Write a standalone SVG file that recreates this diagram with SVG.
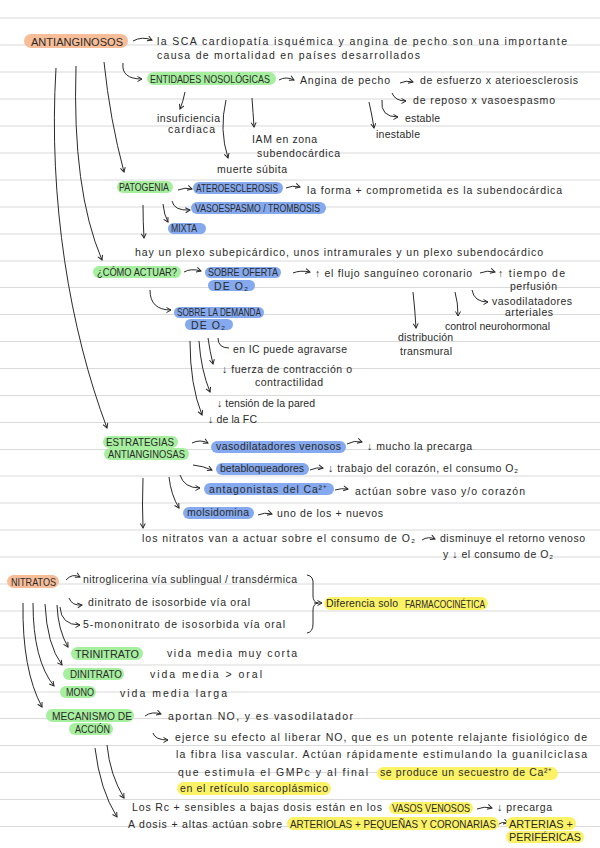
<svg xmlns="http://www.w3.org/2000/svg" width="600" height="848" viewBox="0 0 600 848">
<style>
.rule{stroke:#dadada;stroke-width:1.2}
.t{font-family:"Liberation Sans",Arial,sans-serif;font-size:10.5px;fill:#2a2a2a}
.c{font-family:"Liberation Sans",Arial,sans-serif;font-size:10.5px;fill:#2a2a2a}
.or{fill:#f7bd98}
.gr{fill:#a6ef9e}
.bl{fill:#85a9ee}
.ye{fill:#fbf266}
.ln{fill:none;stroke:#2a2a2a;stroke-width:1;marker-end:url(#ah)}
.lnn{fill:none;stroke:#2a2a2a;stroke-width:1}
</style>
<defs>
<marker id="ah" markerWidth="7" markerHeight="7" refX="5" refY="3" orient="auto" markerUnits="userSpaceOnUse"><path d="M0.5,0.5 L5,3 L0.5,5.5" fill="none" stroke="#2a2a2a" stroke-width="1"/></marker>
</defs>
<rect width="600" height="848" fill="#ffffff"/>
<g id="rules">
<line class="rule" x1="0" x2="600" y1="18" y2="18"/>
<line class="rule" x1="0" x2="600" y1="45" y2="45"/>
<line class="rule" x1="0" x2="600" y1="72" y2="72"/>
<line class="rule" x1="0" x2="600" y1="99" y2="99"/>
<line class="rule" x1="0" x2="600" y1="126" y2="126"/>
<line class="rule" x1="0" x2="600" y1="153" y2="153"/>
<line class="rule" x1="0" x2="600" y1="180" y2="180"/>
<line class="rule" x1="0" x2="600" y1="207" y2="207"/>
<line class="rule" x1="0" x2="600" y1="234" y2="234"/>
<line class="rule" x1="0" x2="600" y1="261" y2="261"/>
<line class="rule" x1="0" x2="600" y1="287.5" y2="287.5"/>
<line class="rule" x1="0" x2="600" y1="314.5" y2="314.5"/>
<line class="rule" x1="0" x2="600" y1="341.5" y2="341.5"/>
<line class="rule" x1="0" x2="600" y1="368.5" y2="368.5"/>
<line class="rule" x1="0" x2="600" y1="395.5" y2="395.5"/>
<line class="rule" x1="0" x2="600" y1="422.5" y2="422.5"/>
<line class="rule" x1="0" x2="600" y1="449.5" y2="449.5"/>
<line class="rule" x1="0" x2="600" y1="476" y2="476"/>
<line class="rule" x1="0" x2="600" y1="503" y2="503"/>
<line class="rule" x1="0" x2="600" y1="530" y2="530"/>
<line class="rule" x1="0" x2="600" y1="557" y2="557"/>
<line class="rule" x1="0" x2="600" y1="584" y2="584"/>
<line class="rule" x1="0" x2="600" y1="611" y2="611"/>
<line class="rule" x1="0" x2="600" y1="638" y2="638"/>
<line class="rule" x1="0" x2="600" y1="665" y2="665"/>
<line class="rule" x1="0" x2="600" y1="692" y2="692"/>
<line class="rule" x1="0" x2="600" y1="718.5" y2="718.5"/>
<line class="rule" x1="0" x2="600" y1="745.5" y2="745.5"/>
<line class="rule" x1="0" x2="600" y1="772.5" y2="772.5"/>
<line class="rule" x1="0" x2="600" y1="799.5" y2="799.5"/>
<line class="rule" x1="0" x2="600" y1="826.5" y2="826.5"/>
</g>

<g id="connectors">
<path class="ln" d="M133,41 Q142,36 152,40"/>
<path class="ln" d="M123,63 Q121,79 142,79"/>
<path class="ln" d="M104,62 Q110,120 124,172"/>
<path class="ln" d="M76,66 Q72,190 102,260"/>
<path class="ln" d="M56,68 C48,200 70,330 107,428"/>
<path class="ln" d="M279,80 Q286,76 294,80"/>
<path class="ln" d="M400,83 Q406,80 413,82"/>
<path class="ln" d="M392,93 Q395,101 406,101"/>
<path class="ln" d="M382,100 Q380,117 398,117"/>
<path class="ln" d="M369,102 Q372,115 374,128"/>
<path class="ln" d="M185,92 Q183,102 180,109"/>
<path class="ln" d="M226,100 Q219,130 228,158"/>
<path class="ln" d="M252,98 Q253,112 254,127"/>
<path class="ln" d="M178,190 Q185,187 192,189"/>
<path class="ln" d="M286,188 Q292,185 300,187"/>
<path class="ln" d="M172,201 Q174,211 190,210"/>
<path class="ln" d="M163,204 Q164,215 168,222"/>
<path class="ln" d="M143,205 Q143,222 144,238"/>
<path class="ln" d="M184,272 Q191,268 201,271"/>
<path class="ln" d="M293,273 Q300,270 310,272"/>
<path class="ln" d="M480,273 Q487,270 495,272"/>
<path class="ln" d="M472,290 Q474,302 488,302"/>
<path class="ln" d="M455,292 Q458,302 458,316"/>
<path class="ln" d="M413,292 Q415,310 416,328"/>
<path class="ln" d="M150,290 Q150,310 171,310"/>
<path class="lnn" d="M218,338 Q218,348 229,348"/>
<path class="ln" d="M208,338 Q210,352 213,364"/>
<path class="ln" d="M199,341 Q201,370 210,392"/>
<path class="ln" d="M190,341 Q190,385 202,415"/>
<path class="ln" d="M192,443 Q200,439 208,443"/>
<path class="ln" d="M347,444 Q354,440 362,442"/>
<path class="ln" d="M193,465 Q203,466 212,470"/>
<path class="ln" d="M310,470 Q317,467 323,468"/>
<path class="ln" d="M180,475 Q184,488 200,488"/>
<path class="ln" d="M335,490 Q341,488 348,489"/>
<path class="ln" d="M169,477 Q171,495 179,508"/>
<path class="ln" d="M258,515 Q264,512 272,514"/>
<path class="ln" d="M143,478 Q142,505 143,528"/>
<path class="ln" d="M422,540 Q428,536 435,539"/>
<path class="ln" d="M66,580 Q72,573 80,577"/>
<path class="ln" d="M69,598 Q72,606 82,605"/>
<path class="ln" d="M60,607 Q61,625 80,625"/>
<path class="ln" d="M57,605 Q58,630 68,647"/>
<path class="ln" d="M45,604 Q47,645 62,665"/>
<path class="ln" d="M33,603 Q33,660 54,686"/>
<path class="ln" d="M23,603 Q22,670 42,707"/>
<path class="lnn" d="M307,575 Q314,576 313,585 L313,596 Q313,602 318,603 Q313,604 313,610 L313,624 Q313,632 307,633"/>
<path class="ln" d="M314,603 L322,603"/>
<path class="ln" d="M145,716 Q152,711 161,714"/>
<path class="ln" d="M153,733 Q155,740 168,740"/>
<path class="ln" d="M107,745 Q110,775 124,798"/>
<path class="ln" d="M95,748 Q100,790 117,817"/>
<path class="ln" d="M477,809 Q484,806 492,808"/>
<path class="ln" d="M497,825 Q502,821 508,823"/>
</g>

<g id="n-antianginosos"><rect class="or" x="24" y="34" width="104" height="14" rx="7"/><text class="c" font-size="11.5" x="31" y="45.5" textLength="92" lengthAdjust="spacingAndGlyphs">ANTIANGINOSOS</text></g>
<g id="n-intro"><text class="t" x="157" y="45" textLength="410">la SCA cardiopatía isquémica y angina de pecho son una importante</text><text class="t" x="157" y="59" textLength="263">causa de mortalidad en países desarrollados</text></g>

<g id="n-entidades"><rect class="gr" x="147" y="72" width="129" height="13" rx="6.5"/><text class="c" x="150" y="82.5" textLength="120" lengthAdjust="spacingAndGlyphs">ENTIDADES NOSOLÓGICAS</text></g>
<g id="n-angina"><text class="t" x="300" y="84" textLength="90">Angina de pecho</text></g>
<g id="n-esfuerzo"><text class="t" x="420" y="84" textLength="158">de esfuerzo x aterioesclerosis</text></g>
<g id="n-reposo"><text class="t" x="413" y="104" textLength="142">de reposo x vasoespasmo</text></g>
<g id="n-estable"><text class="t" x="405" y="122" textLength="35">estable</text></g>
<g id="n-inestable"><text class="t" x="376" y="138" textLength="44">inestable</text></g>
<g id="n-insuficiencia"><text class="t" x="157" y="122" textLength="63">insuficiencia</text><text class="t" x="168" y="133" textLength="47">cardiaca</text></g>
<g id="n-iam"><text class="t" x="252" y="143" textLength="65">IAM en zona</text><text class="t" x="257" y="157" textLength="83">subendocárdica</text></g>
<g id="n-muerte"><text class="t" x="217" y="173" textLength="70">muerte súbita</text></g>

<g id="n-patogenia"><rect class="gr" x="117" y="181" width="56" height="12" rx="6"/><text class="c" x="119" y="191" textLength="50" lengthAdjust="spacingAndGlyphs">PATOGENIA</text></g>
<g id="n-atero"><rect class="bl" x="193" y="182" width="90" height="12" rx="6"/><text class="c" x="196" y="192" textLength="82" lengthAdjust="spacingAndGlyphs">ATEROESCLEROSIS</text></g>
<g id="n-forma"><text class="t" x="307" y="194" textLength="255">la forma + comprometida es la subendocárdica</text></g>
<g id="n-vaso"><rect class="bl" x="191" y="202" width="135" height="12" rx="6"/><text class="c" x="195" y="212" textLength="125" lengthAdjust="spacingAndGlyphs">VASOESPASMO / TROMBOSIS</text></g>
<g id="n-mixta"><rect class="bl" x="168" y="223" width="38" height="11" rx="5.5"/><text class="c" x="171" y="232" textLength="26" lengthAdjust="spacingAndGlyphs">MIXTA</text></g>
<g id="n-plexo"><text class="t" x="135" y="256" textLength="408">hay un plexo subepicárdico, unos intramurales y un plexo subendocárdico</text></g>

<g id="n-como"><rect class="gr" x="93" y="266" width="88" height="12" rx="6"/><text class="c" x="97" y="276" textLength="80" lengthAdjust="spacingAndGlyphs">¿CÓMO ACTUAR?</text></g>
<g id="n-oferta"><rect class="bl" x="205" y="267" width="76" height="11" rx="5.5"/><rect class="bl" x="208" y="280" width="47" height="11" rx="5.5"/><text class="c" x="208" y="276" textLength="70" lengthAdjust="spacingAndGlyphs">SOBRE OFERTA</text><text class="c" x="214" y="289.5" textLength="34">DE O₂</text></g>
<g id="n-flujo"><text class="t" x="315" y="277" textLength="157">↑ el flujo sanguíneo coronario</text></g>
<g id="n-tiempo"><text class="t" x="498" y="277" textLength="67">↑ tiempo de</text><text class="t" x="510" y="290" textLength="47">perfusión</text></g>
<g id="n-vasodil"><text class="t" x="492" y="305" textLength="80">vasodilatadores</text><text class="t" x="505" y="316" textLength="48">arteriales</text></g>
<g id="n-control"><text class="t" x="445" y="329.5" textLength="105">control neurohormonal</text></g>
<g id="n-distrib"><text class="t" x="398" y="341" textLength="55">distribución</text><text class="t" x="400" y="355" textLength="52">transmural</text></g>
<g id="n-demanda"><rect class="bl" x="174" y="307" width="90" height="11" rx="5.5"/><rect class="bl" x="185" y="319" width="48" height="11" rx="5.5"/><text class="c" x="177" y="316" textLength="84" lengthAdjust="spacingAndGlyphs">SOBRE LA DEMANDA</text><text class="c" x="191" y="328.5" textLength="34">DE O₂</text></g>
<g id="n-ic"><text class="t" x="233" y="353" textLength="114">en IC puede agravarse</text></g>
<g id="n-fuerza"><text class="t" x="222" y="373" textLength="130">↓ fuerza de contracción o</text><text class="t" x="255" y="386" textLength="68">contractilidad</text></g>
<g id="n-tension"><text class="t" x="217" y="407" textLength="98">↓ tensión de la pared</text></g>
<g id="n-fc"><text class="t" x="208" y="423" textLength="49">↓ de la FC</text></g>

<g id="n-estrategias"><rect class="gr" x="103" y="436" width="75" height="12" rx="6"/><rect class="gr" x="104" y="448" width="85" height="12" rx="6"/><text class="c" x="106" y="446" textLength="68" lengthAdjust="spacingAndGlyphs">ESTRATEGIAS</text><text class="c" x="108" y="458" textLength="77" lengthAdjust="spacingAndGlyphs">ANTIANGINOSAS</text></g>
<g id="n-venosos"><rect class="bl" x="211" y="441" width="135" height="12" rx="6"/><text class="t" x="216" y="450" textLength="125">vasodilatadores venosos</text></g>
<g id="n-mucho"><text class="t" x="367" y="450" textLength="105">↓ mucho la precarga</text></g>
<g id="n-beta"><rect class="bl" x="216" y="463" width="93" height="12" rx="6"/><text class="t" x="220" y="472" textLength="84">betabloqueadores</text></g>
<g id="n-trabajo"><text class="t" x="328" y="472" textLength="190">↓ trabajo del corazón, el consumo O₂</text></g>
<g id="n-antag"><rect class="bl" x="204" y="483" width="130" height="12" rx="6"/><text class="t" x="209" y="493" textLength="118">antagonistas del Ca²⁺</text></g>
<g id="n-actuan"><text class="t" x="355" y="495" textLength="170">actúan sobre vaso y/o corazón</text></g>
<g id="n-molsi"><rect class="bl" x="183" y="507" width="71" height="12" rx="6"/><text class="t" x="187" y="516" textLength="62">molsidomina</text></g>
<g id="n-uno"><text class="t" x="277" y="517" textLength="106">uno de los + nuevos</text></g>
<g id="n-losnitratos"><text class="t" x="142" y="542" textLength="273">los nitratos van a actuar sobre el consumo de O₂</text></g>
<g id="n-disminuye"><text class="t" x="440" y="542" textLength="145">disminuye el retorno venoso</text><text class="t" x="443" y="558" textLength="110">y ↓ el consumo de O₂</text></g>

<g id="n-nitratos"><rect class="or" x="7" y="575" width="52" height="13" rx="6.5"/><text class="c" x="11" y="585.5" textLength="45" lengthAdjust="spacingAndGlyphs">NITRATOS</text></g>
<g id="n-nitroglicerina"><text class="t" x="83" y="583" textLength="214">nitroglicerina vía sublingual / transdérmica</text></g>
<g id="n-dinitrato-iso"><text class="t" x="88" y="606" textLength="162">dinitrato de isosorbide vía oral</text></g>
<g id="n-mononitrato"><text class="t" x="83" y="628" textLength="202">5-mononitrato de isosorbida vía oral</text></g>
<g id="n-diferencia"><rect class="ye" x="324" y="597" width="164" height="13" rx="6.5"/><text class="t" x="326" y="607" textLength="72">Diferencia solo</text><text class="c" x="405" y="607.5" textLength="80" lengthAdjust="spacingAndGlyphs">FARMACOCINÉTICA</text></g>
<g id="n-trinitrato"><rect class="gr" x="71" y="647" width="72" height="13" rx="6.5"/><text class="c" x="75" y="657.5" textLength="64" lengthAdjust="spacingAndGlyphs">TRINITRATO</text></g>
<g id="n-vida1"><text class="t" x="167" y="657" textLength="130">vida media muy corta</text></g>
<g id="n-dinitrato"><rect class="gr" x="63" y="668" width="61" height="12" rx="6"/><text class="c" x="70" y="678" textLength="52" lengthAdjust="spacingAndGlyphs">DINITRATO</text></g>
<g id="n-vida2"><text class="t" x="150" y="678" textLength="112">vida media &gt; oral</text></g>
<g id="n-mono"><rect class="gr" x="60" y="686" width="36" height="12" rx="6"/><text class="c" x="66" y="696" textLength="28" lengthAdjust="spacingAndGlyphs">MONO</text></g>
<g id="n-vida3"><text class="t" x="120" y="697" textLength="107">vida media larga</text></g>
<g id="n-mecanismo"><rect class="gr" x="46" y="709" width="88" height="13" rx="6.5"/><rect class="gr" x="69" y="723" width="44" height="12" rx="6"/><text class="c" x="52" y="719.5" textLength="80" lengthAdjust="spacingAndGlyphs">MECANISMO DE</text><text class="c" x="75" y="733" textLength="35" lengthAdjust="spacingAndGlyphs">ACCIÓN</text></g>
<g id="n-aportan"><text class="t" x="168" y="720" textLength="185">aportan NO, y es vasodilatador</text></g>
<g id="n-ejerce">
<rect class="ye" x="377" y="767" width="181" height="13" rx="6.5"/>
<rect class="ye" x="177" y="782" width="154" height="13" rx="6.5"/>
<text class="t" x="175" y="741" textLength="412">ejerce su efecto al liberar NO, que es un potente relajante fisiológico de</text>
<text class="t" x="176" y="758" textLength="411">la fibra lisa vascular. Actúan rápidamente estimulando la guanilciclasa</text>
<text class="t" x="178" y="776" textLength="190">que estimula el GMPc y al final</text>
<text class="t" x="380" y="776" textLength="172">se produce un secuestro de Ca²⁺</text>
<text class="t" x="180" y="792" textLength="148">en el retículo sarcoplásmico</text>
</g>
<g id="n-bajas"><rect class="ye" x="389" y="802" width="84" height="12" rx="6"/><text class="t" x="132" y="811" textLength="250">Los Rc + sensibles a bajas dosis están en los</text><text class="c" x="392" y="812" textLength="78" lengthAdjust="spacingAndGlyphs">VASOS VENOSOS</text></g>
<g id="n-precarga"><text class="t" x="497" y="811" textLength="55">↓ precarga</text></g>
<g id="n-altas"><rect class="ye" x="287" y="817" width="212" height="13" rx="6.5"/><text class="t" x="128" y="828" textLength="154">A dosis + altas actúan sobre</text><text class="c" x="290" y="827.5" textLength="206" lengthAdjust="spacingAndGlyphs">ARTERIOLAS + PEQUEÑAS Y CORONARIAS</text></g>
<g id="n-arterias"><rect class="ye" x="506" y="817" width="70" height="13" rx="6.5"/><rect class="ye" x="506" y="831" width="78" height="12" rx="6"/><text class="c" x="509" y="827.5" textLength="64" lengthAdjust="spacingAndGlyphs">ARTERIAS +</text><text class="c" x="509" y="841" textLength="72" lengthAdjust="spacingAndGlyphs">PERIFÉRICAS</text></g>
</svg>
